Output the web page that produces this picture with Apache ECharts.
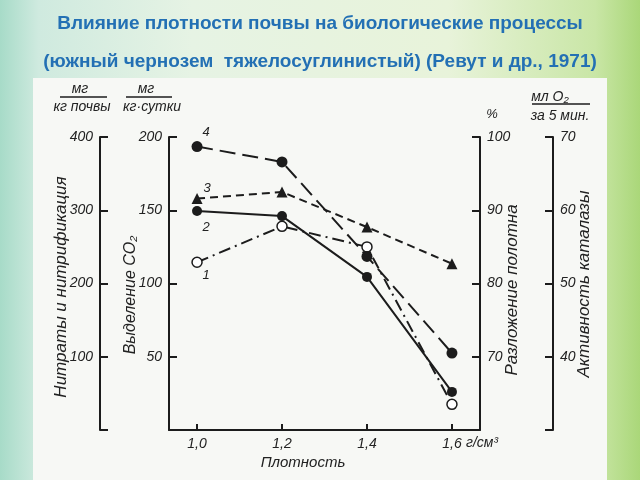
<!DOCTYPE html>
<html><head><meta charset="utf-8">
<script src="https://cdn.jsdelivr.net/npm/echarts@6/dist/echarts.min.js"></script>
<style>
html,body{margin:0;padding:0;width:640px;height:480px;overflow:hidden;
background:linear-gradient(90deg,#a7dbc8 0%,#cfeadf 6%,#e6f3e4 30%,#e8f3da 70%,#c9e6a6 93%,#aad779 100%);}
#c{position:absolute;left:0;top:0;width:640px;height:480px;}
</style></head><body>
<div id="c"></div>
<script>
// Density, g/cm3
const densities = [1.0, 1.2, 1.4, 1.6];
const xTickLabels = ['1,0', '1,2', '1,4', '1,6'];
// 1 — nitrates and nitrification, mg/kg soil
const nitrates = [229, 278, 250, 35];
// 2 — CO2 release, mg/(kg·day)
const co2 = [149.5, 146, 104.5, 26];
// 3 — cloth decomposition, %
const decomposition = [91.6, 92.5, 87.7, 82.7];
// 4 — catalase activity, ml O2 per 5 min
const catalase = [68.7, 66.6, 53.7, 40.5];

const INK = '#1c1c1c';
const FONT = 'Liberation Sans';

function yAx(min, max, interval, position, offset) {
  return {
    type: 'value', min, max, interval, position, offset,
    axisLine: {show: true, lineStyle: {color: INK, width: 2}},
    axisTick: {show: true, inside: true, length: 8, lineStyle: {color: INK, width: 2}},
    axisLabel: {formatter: v => (v === min ? '' : String(v)), color: '#222', fontSize: 14,
      fontStyle: 'italic', fontFamily: FONT, margin: 7},
    splitLine: {show: false}
  };
}

function mkData(vals, lbl, off) {
  return densities.map((d, i) => i === 0 ? {
    value: [d, vals[i]],
    label: {show: true, formatter: lbl, position: 'inside', offset: off,
      color: '#222', fontSize: 13, fontStyle: 'italic', fontFamily: FONT}
  } : [d, vals[i]]);
}

const chart = echarts.init(document.getElementById('c'));
const txt = (x, y, text, size, rot, extra) => ({
  type: 'text', x, y, rotation: rot || 0,
  style: Object.assign({text, fill: '#222', font: 'italic ' + size + 'px "' + FONT + '"',
    align: 'center', verticalAlign: 'middle'}, extra || {})
});
const ln = (x1, y1, x2, y2) => ({type: 'line', shape: {x1, y1, x2, y2}, style: {stroke: INK, lineWidth: 1.5}});

chart.setOption({
  animation: false,
  title: {
    text: 'Влияние плотности почвы на биологические процессы\n(южный чернозем  тяжелосуглинистый) (Ревут и др., 1971)',
    left: 'center', top: 5, padding: 0,
    textStyle: {color: '#2370b4', fontSize: 19, fontWeight: 'bold', fontFamily: FONT, lineHeight: 38}
  },
  grid: {left: 169, right: 160, top: 137, bottom: 50},
  xAxis: {
    type: 'value', min: 0.934, max: 1.666,
    axisLine: {lineStyle: {color: INK, width: 2}},
    axisTick: {show: true, inside: true, length: 6, customValues: densities, lineStyle: {color: INK, width: 2}},
    axisLabel: {customValues: densities, showMinLabel: true, showMaxLabel: true,
      formatter: v => { const i = densities.findIndex(d => Math.abs(d - v) < 1e-6); return i >= 0 ? xTickLabels[i] : ''; },
      color: '#222', fontSize: 14, fontStyle: 'italic', fontFamily: FONT, margin: 7},
    splitLine: {show: false}
  },
  yAxis: [
    yAx(0, 400, 100, 'left', 69),
    yAx(0, 200, 50, 'left', 0),
    yAx(60, 100, 10, 'right', 0),
    yAx(30, 70, 10, 'right', 73)
  ],
  series: [
    {name: '1', type: 'line', yAxisIndex: 0, data: mkData(nitrates, '1', [9, 13]),
      symbol: 'circle', symbolSize: 10, itemStyle: {color: '#fff', borderColor: INK, borderWidth: 1.5},
      lineStyle: {color: INK, width: 2, type: [12, 5, 2, 5]}, z: 3},
    {name: '2', type: 'line', yAxisIndex: 1, data: mkData(co2, '2', [9, 16]),
      symbol: 'circle', symbolSize: 10, itemStyle: {color: INK},
      lineStyle: {color: INK, width: 2}},
    {name: '3', type: 'line', yAxisIndex: 2, data: mkData(decomposition, '3', [10, -10]),
      symbol: 'triangle', symbolSize: 11, itemStyle: {color: INK},
      lineStyle: {color: INK, width: 2, type: [8, 5]}},
    {name: '4', type: 'line', yAxisIndex: 3, data: mkData(catalase, '4', [9, -14]),
      symbol: 'circle', symbolSize: 11, itemStyle: {color: INK},
      lineStyle: {color: INK, width: 2, type: [16, 7]}}
  ],
  graphic: [
    {type: 'rect', z: -10, shape: {x: 33, y: 78, width: 574, height: 402}, style: {fill: '#f7f8f5'}},
    txt(80, 89, 'мг', 14), ln(60, 97, 107, 97), txt(82, 107, 'кг почвы', 14),
    txt(146, 89, 'мг', 14), ln(126, 97, 172, 97), txt(152, 107, 'кг·сутки', 14),
    txt(492, 114, '%', 13),
    txt(550, 97, 'мл O₂', 14), ln(532, 104, 590, 104), txt(560, 116, 'за 5 мин.', 14),
    txt(61, 287, 'Нитраты и нитрификация', 17, Math.PI / 2),
    txt(131, 295, 'Выделение CO₂', 16, Math.PI / 2),
    txt(512, 290, 'Разложение полотна', 17, Math.PI / 2),
    txt(584, 284, 'Активность каталазы', 17, Math.PI / 2),
    txt(303, 463, 'Плотность', 15),
    txt(466, 443, 'г/см³', 14, 0, {align: 'left'})
  ]
});
</script>
</body></html>
